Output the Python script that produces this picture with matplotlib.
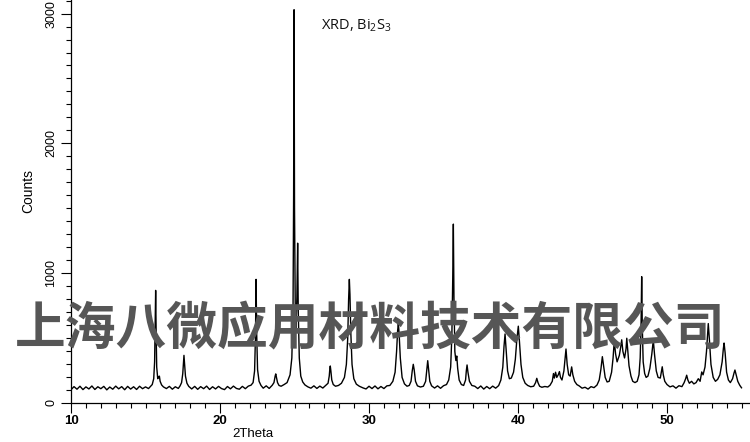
import matplotlib.pyplot as plt
from matplotlib.ticker import MultipleLocator

# XRD pattern of Bi2S3 (2Theta in deg, intensity in counts)
two_theta = [
    10.0, 10.2, 10.4, 10.6, 10.8, 11.0, 11.2, 11.4, 11.6, 11.8, 12.0, 12.2, 12.4, 12.6,
    12.8, 13.0, 13.2, 13.4, 13.6, 13.8, 14.0, 14.2, 14.4, 14.6, 14.8, 15.0, 15.2, 15.35,
    15.45, 15.55, 15.61, 15.65, 15.68, 15.71, 15.75, 15.82, 15.88, 15.93, 15.98, 16.08, 16.2,
    16.4, 16.6, 16.8, 17.0, 17.2, 17.32,
    17.42, 17.5, 17.55, 17.58, 17.62, 17.68, 17.78, 17.9,
    18.1, 18.3, 18.5, 18.7, 18.9, 19.1, 19.3, 19.5, 19.7, 19.9, 20.1, 20.3, 20.5, 20.7,
    20.9, 21.1, 21.3, 21.5, 21.7, 21.9, 22.08,
    22.22, 22.32, 22.38, 22.42, 22.46, 22.52, 22.62, 22.75,
    22.9, 23.1, 23.3, 23.5,
    23.62, 23.7, 23.74, 23.78, 23.86, 23.96,
    24.1, 24.3, 24.5, 24.7,
    24.82, 24.9, 24.94, 24.97, 25.0, 25.05, 25.1, 25.16, 25.21, 25.25, 25.32, 25.42, 25.55, 25.7,
    25.9, 26.1, 26.3, 26.5, 26.7, 26.9, 27.1, 27.25,
    27.33, 27.37, 27.40, 27.44, 27.5, 27.6, 27.75,
    27.95, 28.15, 28.35, 28.48,
    28.57, 28.63, 28.68, 28.72, 28.78, 28.86, 28.98, 29.15, 29.35,
    29.6, 29.8, 30.0, 30.2, 30.4, 30.6, 30.8, 31.0, 31.2, 31.4, 31.6,
    31.75, 31.85, 31.92, 31.97, 32.02, 32.1, 32.22, 32.38,
    32.55, 32.7, 32.82,
    32.9, 32.97, 33.03, 33.12, 33.25,
    33.45, 33.65, 33.8,
    33.88, 33.94, 34.0, 34.08, 34.2,
    34.4, 34.6, 34.8, 35.0, 35.2, 35.35, 35.48,
    35.56, 35.62, 35.66, 35.7, 35.76, 35.83, 35.89, 35.95, 36.05, 36.2, 36.35, 36.48,
    36.53, 36.58, 36.64, 36.74, 36.9,
    37.1, 37.3, 37.5, 37.7, 37.9, 38.1, 38.3, 38.5, 38.7, 38.85,
    38.98, 39.06, 39.13, 39.2, 39.3, 39.42, 39.55, 39.7, 39.82,
    39.92, 40.02, 40.1, 40.2, 40.32, 40.48, 40.65,
    40.85, 41.05, 41.18,
    41.26, 41.34, 41.45,
    41.6, 41.8, 42.0, 42.15, 42.3,
    42.38, 42.44, 42.52, 42.6, 42.7, 42.78, 42.85, 42.95, 43.08,
    43.16, 43.22, 43.3, 43.4, 43.5, 43.6, 43.68, 43.8, 43.95,
    44.1, 44.3, 44.5, 44.7, 44.9, 45.1, 45.3, 45.45,
    45.56, 45.66, 45.74, 45.85, 45.98, 46.12, 46.28, 46.38,
    46.46, 46.55, 46.65, 46.8, 46.9, 46.96, 47.04, 47.15, 47.25, 47.3, 47.36, 47.45,
    47.58, 47.7, 47.85, 48.0, 48.12, 48.2,
    48.26, 48.30, 48.34, 48.4, 48.5, 48.6, 48.72, 48.85, 48.98,
    49.08, 49.16, 49.28, 49.4, 49.55, 49.62,
    49.68, 49.75, 49.85, 50.0, 50.2, 50.4, 50.6, 50.8, 51.0, 51.15,
    51.25, 51.32, 51.4, 51.5, 51.65, 51.8, 51.95, 52.1, 52.22,
    52.33, 52.42, 52.55, 52.65,
    52.72, 52.77, 52.84, 52.95, 53.1, 53.25, 53.4, 53.55, 53.7,
    53.78, 53.83, 53.9, 54.0, 54.12, 54.25, 54.4,
    54.5, 54.56, 54.64, 54.75, 54.88, 55.0,
]
counts = [
    100, 124, 104, 127, 101, 122, 106, 129, 102, 123, 108, 126, 99, 121,
    104, 128, 107, 124, 100, 126, 105, 123, 102, 127, 108, 122, 109, 128,
    140, 185, 315, 610, 866, 570, 275, 185, 200, 205, 165, 137, 122,
    109, 126, 104, 123, 110, 130,
    155, 225, 315, 365, 305, 205, 150, 126,
    106, 126, 103, 124, 108, 128, 102, 123, 106, 126, 109, 101, 125, 107,
    128, 110, 104, 126, 108, 128, 135,
    155, 245, 515, 951, 535, 255, 165, 133,
    112, 130, 110, 134,
    155, 205, 222, 200, 155, 133,
    127, 140, 155, 215,
    345, 715, 1600, 3030, 1500, 715, 575, 815, 1230, 715, 345, 205, 160, 137,
    122, 112, 130, 110, 128, 113, 134, 150,
    205, 260, 283, 245, 175, 140, 127,
    133, 150, 195, 295,
    495, 795, 951, 835, 535, 295, 185, 143, 127,
    114, 106, 127, 109, 129, 107, 125, 109, 130, 133, 165,
    235, 395, 555, 610, 535, 345, 195, 145,
    127, 133, 165,
    245, 296, 255, 165, 130,
    121, 127, 165,
    255, 324, 255, 165, 130,
    113, 130, 111, 131, 140, 175, 275,
    515, 965, 1377, 815, 395, 325, 360, 265, 175, 140, 133, 175,
    245, 291, 235, 165, 133,
    127, 109, 129, 105, 125, 108, 128, 112, 132, 175,
    275, 435, 530, 415, 245, 185, 190, 235, 335,
    485, 590, 465, 295, 195, 150, 133,
    123, 127, 155,
    188, 155, 127,
    119, 125, 121, 135, 165,
    225, 190, 235, 195, 215, 240, 195, 175, 245,
    345, 414, 295, 215, 205, 276, 215, 165, 140,
    130, 112, 119, 105, 124, 116, 136, 175,
    255, 355, 285, 195, 160, 165, 235, 345,
    475, 375, 315, 365, 435, 485, 395, 345, 415, 497, 415, 285,
    205, 165, 155, 165, 215, 345,
    615, 972, 595, 315, 225, 195, 205, 265, 375,
    483, 375, 245, 195, 190, 235,
    277, 215, 165, 140, 122, 130, 112, 131, 124, 155,
    185, 212, 175, 150, 165, 145, 155, 185, 165,
    237, 215, 275, 395,
    515, 610, 495, 295, 195, 165, 180, 215, 315,
    415, 460, 385, 235, 175, 155, 185,
    230, 252, 215, 165, 135, 115,
]

title_text = "XRD, Bi$_2$S$_3$"
watermark = "上海八微应用材料技术有限公司"

plt.rcParams["font.family"] = ["Liberation Sans", "DejaVu Sans"]
plt.rcParams["mathtext.fontset"] = "custom"
plt.rcParams["mathtext.rm"] = "Open Sans"

fig = plt.figure(figsize=(7.5, 4.42), dpi=100)
ax = fig.add_axes([0.0947, 0.0889, 0.9053, 0.9111])

ax.plot(two_theta, counts, color="black", linewidth=1.0)

ax.set_xlim(10, 55.57)
ax.set_ylim(0, 3105)

# Only left and bottom axis lines, ticks pointing out
ax.spines["top"].set_visible(False)
ax.spines["right"].set_visible(False)
ax.spines["left"].set_linewidth(0.9)
ax.spines["bottom"].set_linewidth(0.9)

ax.xaxis.set_major_locator(MultipleLocator(10))
ax.xaxis.set_minor_locator(MultipleLocator(1))
ax.yaxis.set_major_locator(MultipleLocator(1000))
ax.yaxis.set_minor_locator(MultipleLocator(100))
ax.tick_params(which="major", length=7, width=0.8, direction="out")
ax.tick_params(which="minor", length=3.5, width=0.8, direction="out")
ax.tick_params(axis="x", labelsize=9.5, pad=2)
ax.tick_params(axis="y", labelsize=9, pad=3, labelrotation=90)
for label in ax.get_xticklabels():
    label.set_fontweight("bold")
for label in ax.get_yticklabels():
    label.set_va("center")

fig.text(253 / 750, 1 - 434 / 442, "2Theta", fontsize=9.5, ha="center", va="center")
fig.text(28 / 750, 1 - 191 / 442, "Counts", fontsize=10, rotation=90,
         ha="center", va="center")

fig.text(321 / 750, 1 - 29 / 442, title_text, fontsize=10.5, family="Open Sans",
         color="#111111", ha="left", va="baseline")

# Company watermark drawn over the trace
fig.text(370 / 750, 1 - 330 / 442, watermark, fontsize=36.5,
         family=["Noto Sans CJK SC", "DejaVu Sans"], fontweight="heavy",
         color="#565656", ha="center", va="center")

fig.savefig("out.png", dpi=100)
